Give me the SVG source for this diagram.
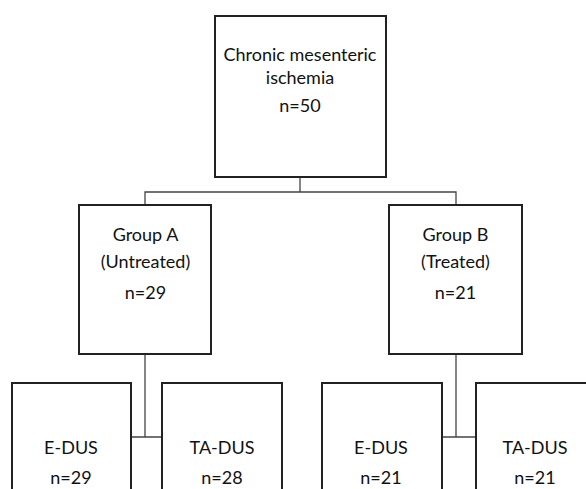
<svg xmlns="http://www.w3.org/2000/svg" width="586" height="489" viewBox="0 0 586 489">
<style>
.box{fill:#fff;stroke:#222;stroke-width:2}
.conn{fill:none;stroke:#444;stroke-width:1.3}
text{font-family:Lato,"Open Sans","Liberation Sans",sans-serif;font-size:18px;fill:#111;text-anchor:middle}
</style>
<rect width="586" height="489" fill="#fff"/>
<g id="connectors">
<path class="conn" d="M300 177V192M145 205V192H456V205"/>
<path class="conn" d="M145 354V437M131 437H162"/>
<path class="conn" d="M456 354V437M442 437H476"/>
</g>
<g id="root">
<rect class="box" x="215" y="16" width="171" height="161"/>
<text x="300" y="61">Chronic mesenteric</text>
<text x="300" y="84">ischemia</text>
<text x="300" y="112">n=50</text>
</g>
<g id="groupA">
<rect class="box" x="79" y="205" width="132" height="149"/>
<text x="145.5" y="241">Group A</text>
<text x="145.5" y="268">(Untreated)</text>
<text x="145.5" y="299">n=29</text>
</g>
<g id="groupB">
<rect class="box" x="389" y="205" width="133" height="149"/>
<text x="455.5" y="241">Group B</text>
<text x="455.5" y="268">(Treated)</text>
<text x="455.5" y="299">n=21</text>
</g>
<g id="a-edus">
<rect class="box" x="12" y="383" width="119" height="130"/>
<text x="71" y="454">E-DUS</text>
<text x="71" y="484">n=29</text>
</g>
<g id="a-tadus">
<rect class="box" x="162" y="383" width="120" height="130"/>
<text x="222" y="454">TA-DUS</text>
<text x="222" y="484">n=28</text>
</g>
<g id="b-edus">
<rect class="box" x="322" y="383" width="120" height="130"/>
<text x="381" y="454">E-DUS</text>
<text x="381" y="484">n=21</text>
</g>
<g id="b-tadus">
<rect class="box" x="476" y="383" width="120" height="130"/>
<text x="535" y="454">TA-DUS</text>
<text x="535" y="484">n=21</text>
</g>
</svg>
